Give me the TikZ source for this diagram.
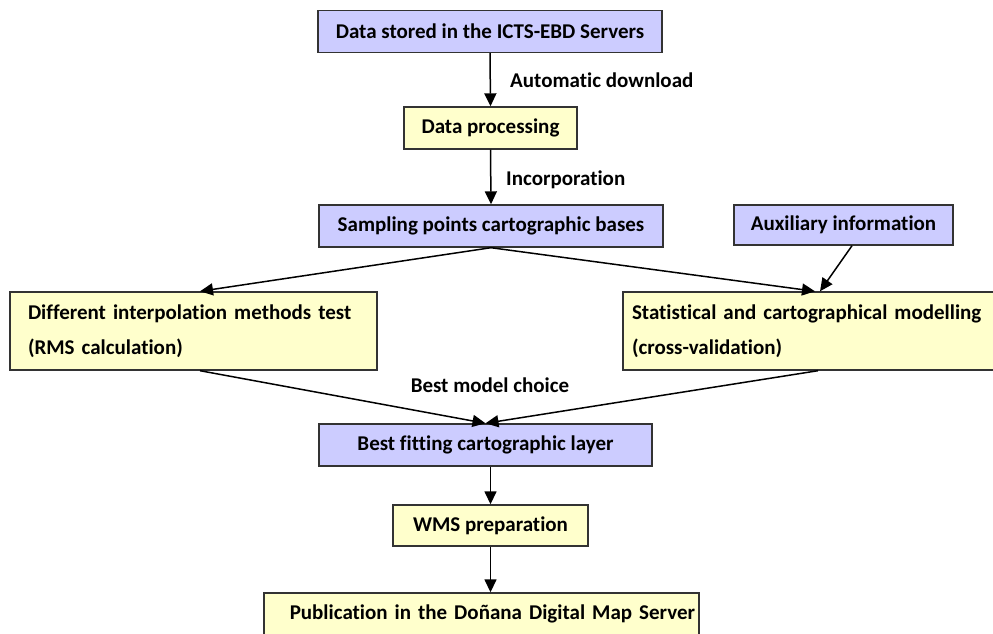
\documentclass[tikz,border=0pt]{standalone}
\usepackage{fontspec}
\setmainfont[Ligatures=NoCommon]{Carlito}
\usetikzlibrary{arrows.meta}
\definecolor{boxblue}{HTML}{CCCCFF}
\definecolor{boxyellow}{HTML}{FFFFCC}
\definecolor{boxline}{HTML}{333333}

\begin{document}
\begin{tikzpicture}[x=1pt, y=-1pt,
        every node/.style={font=\fontsize{21}{35}\selectfont\bfseries},
        box/.style={draw=boxline, line width=1.4pt, inner sep=0pt, minimum height=42pt},
        bluebox/.style={box, fill=boxblue},
        yellowbox/.style={box, fill=boxyellow},
        flow/.style={line width=1.5pt, -{Triangle[length=13pt, width=12pt]}},
        flowlabel/.style={anchor=west, inner sep=0pt},
    ]
    \path[use as bounding box, clip] (0,0) rectangle (993,634);

    % Main column
    \node[bluebox, minimum width=344pt] (servers) at (490, 31.5) {Data stored in the ICTS-EBD Servers};
    \node[yellowbox, minimum width=173pt] (processing) at (490.5, 128) {Data processing};
    \node[bluebox, minimum width=344pt] (sampling) at (491, 226) {Sampling points cartographic bases};
    \node[bluebox, minimum width=219pt, minimum height=40pt] (auxiliary) at (843.5, 225) {Auxiliary information};

    % Two branches
    \node[yellowbox, minimum height=78pt, inner xsep=18pt, text width=331pt, align=left] (interp) at (193.5, 331)
        {Different interpolation methods test\\(RMS calculation)};
    \node[yellowbox, minimum height=78pt, inner xsep=9pt, text width=359pt, align=left] (modelling) at (811.5, 331)
        {Statistical and cartographical modelling\\(cross-validation)};

    % Result
    \node[bluebox, minimum width=333pt] (bestlayer) at (485.5, 445) {Best fitting cartographic layer};
    \node[yellowbox, minimum width=195pt, minimum height=41pt] (wms) at (490.5, 525.5) {WMS preparation};
    \node[yellowbox, inner xsep=4pt, text width=427pt, align=right] (publication) at (481.5, 614)
        {Publication in the Doñana Digital Map Server};

    % Connectors
    \draw[flow] (servers.south) -- (processing.north);
    \node[flowlabel] (downloadlbl) at (510, 80) {Automatic download};
    \draw[flow] (processing.south) -- (sampling.north);
    \node[flowlabel] (incorplbl) at (506, 180) {Incorporation};

    \draw[flow] (sampling.south) -- ([xshift=6.5pt]interp.north);
    \draw[flow] (sampling.south) -- ([xshift=3.5pt]modelling.north);
    \draw[flow] ([xshift=8.5pt]auxiliary.south) -- ([xshift=8.5pt]modelling.north);

    \draw[flow] ([xshift=6.5pt]interp.south) -- (bestlayer.north);
    \draw[flow] ([xshift=6.5pt]modelling.south) -- (bestlayer.north);
    \node (choicelbl) at (490, 385) {Best model choice};

    \draw[flow] (wms.north |- bestlayer.south) -- (wms.north);
    \draw[flow] (wms.south) -- (wms.south |- publication.north);
\end{tikzpicture}
\end{document}
